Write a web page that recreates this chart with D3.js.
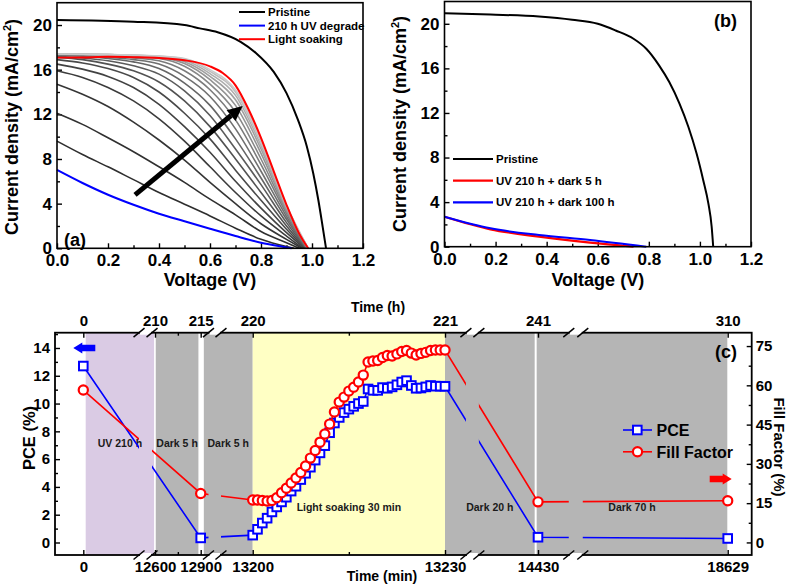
<!DOCTYPE html>
<html>
<head>
<meta charset="utf-8">
<script src="https://cdn.jsdelivr.net/npm/d3@7"></script>
<style>
  body { margin: 0; background: #fff; }
  svg { display: block; }
  text { font-family: "Liberation Sans", Arial, sans-serif; font-weight: bold; }
</style>
</head>
<body>
<svg id="fig" width="787" height="586"></svg>
<script>
// ---------- panel (a): J-V curves during light soaking ----------
const soakV = [0, 0.1, 0.2, 0.3, 0.4, 0.5, 0.6, 0.7, 0.8, 0.9];
// intermediate scans, darkest (just after UV) to lightest
const soakJ = [
  [9.6, 8.4, 7.3, 6.15, 5.0, 3.95, 2.9, 1.8, 0.8, 0.15],
  [12.1, 11.1, 9.9, 8.65, 7.3, 5.9, 4.4, 3.0, 1.5, 0.5],
  [14.7, 13.8, 12.7, 11.3, 9.7, 7.9, 5.9, 4.0, 2.2, 0.8],
  [15.9, 15.3, 14.4, 13.2, 11.6, 9.6, 7.3, 5.0, 2.9, 1.1],
  [16.5, 16.05, 15.4, 14.4, 12.9, 10.9, 8.6, 6.0, 3.6, 1.4],
  [16.9, 16.6, 16.1, 15.3, 14.0, 12.1, 9.8, 7.0, 4.3, 1.7],
  [17.1, 16.9, 16.5, 15.9, 14.9, 13.2, 10.9, 8.0, 5.0, 2.0],
  [17.2, 17.05, 16.8, 16.35, 15.6, 14.1, 11.9, 8.9, 5.7, 2.3],
  [17.3, 17.2, 17.0, 16.7, 16.1, 14.8, 12.8, 9.8, 6.3, 2.6],
  [17.3, 17.25, 17.1, 16.9, 16.5, 15.4, 13.6, 10.7, 6.9, 2.85],
  [17.35, 17.3, 17.2, 17.05, 16.8, 15.9, 14.2, 11.5, 7.5, 3.1],
  [17.4, 17.35, 17.3, 17.15, 17.0, 16.3, 14.7, 12.2, 8.0, 3.3],
  [17.4, 17.35, 17.3, 17.2, 17.1, 16.55, 15.1, 12.8, 8.5, 3.45],
  [17.4, 17.38, 17.35, 17.25, 17.15, 16.7, 15.4, 13.3, 8.9, 3.6],
  [17.4, 17.38, 17.35, 17.28, 17.2, 16.85, 15.65, 13.7, 9.2, 3.7],
  [17.4, 17.38, 17.35, 17.3, 17.2, 16.95, 15.85, 14.0, 9.5, 3.8],
  [17.4, 17.38, 17.35, 17.3, 17.22, 17.0, 16.0, 14.2, 9.7, 3.85]
];
const soakVoc = [0.93, 0.95, 0.96, 0.965, 0.97, 0.972, 0.975, 0.977, 0.978, 0.98, 0.981, 0.982, 0.983, 0.984, 0.984, 0.985, 0.985];

const pristineAV = [0, 0.3, 0.5, 0.56, 0.63, 0.72, 0.78, 0.85, 0.9, 0.945, 0.98, 1.005, 1.025, 1.042, 1.055];
const pristineAJ = [20.46, 20.3, 20.0, 19.7, 19.35, 18.5, 17.5, 15.8, 13.9, 11.5, 9.1, 6.7, 4.3, 1.9, 0];
const degradeV = [0, 0.1, 0.2, 0.3, 0.4, 0.5, 0.6, 0.7, 0.8, 0.9, 0.92];
const degradeJ = [7.02, 5.85, 4.8, 3.9, 3.1, 2.42, 1.75, 1.1, 0.5, 0.08, 0];
const soakedV = [0, 0.1, 0.2, 0.3, 0.4, 0.5, 0.6, 0.65, 0.7, 0.75, 0.8, 0.85, 0.9, 0.95, 0.985];
const soakedJ = [17.08, 17.1, 17.15, 17.12, 17.05, 16.85, 16.3, 15.7, 14.6, 12.5, 9.9, 6.9, 3.9, 1.3, 0];

// ---------- panel (b) ----------
const pristineBV = [0, 0.18, 0.37, 0.5, 0.6, 0.67, 0.74, 0.79, 0.84, 0.88, 0.92, 0.955, 0.987, 1.013, 1.033, 1.046, 1.052];
const pristineBJ = [20.95, 20.83, 20.65, 20.36, 20.0, 19.4, 18.66, 17.76, 16.27, 14.77, 12.84, 10.74, 8.36, 5.97, 3.89, 1.79, 0];
const dark5V = [0, 0.18, 0.37, 0.57, 0.74];
const dark5J = [2.69, 1.56, 0.9, 0.36, 0];
const dark100V = [0, 0.18, 0.37, 0.57, 0.79];
const dark100J = [2.69, 1.65, 1.05, 0.6, 0];

// ---------- panel (c): PCE and FF vs time ----------
const tickMin = [0, 12600, 12900, 13200, 13230, 14430, 18629];
const tickHour = [0, 210, 215, 220, 221, 241, 310];
const timeMin = [0, 12900,
  13200, 13200.75, 13201.5, 13202.25, 13203, 13203.75, 13204.5, 13205.25, 13206, 13206.75,
  13207.5, 13208.25, 13209, 13209.75, 13210.5, 13211.25, 13212, 13212.75, 13213.5, 13214.25,
  13215, 13215.75, 13216.5, 13217.25, 13218, 13218.75, 13219.5, 13220.25, 13221, 13221.75,
  13222.5, 13223.25, 13224, 13224.75, 13225.5, 13226.25, 13227, 13227.75, 13228.5, 13229.25,
  13230, 14430, 18629];
const pce = [12.7, 0.33,
  0.53, 0.95, 1.4, 1.75, 2.2, 2.56, 2.92, 3.26, 3.7, 4.05,
  4.53, 4.98, 5.42, 5.93, 6.45, 6.97, 7.9, 8.6, 9.0, 9.35,
  9.6, 9.8, 10.0, 10.15, 11.05, 10.95, 10.95, 11.15, 11.1, 11.2,
  11.35, 11.55, 11.65, 11.3, 11.1, 11.12, 11.2, 11.3, 11.25, 11.25,
  11.24, 0.38, 0.29];
const fillFactor = [58.2, 18.7,
  16.2, 16.2, 16.0, 15.8, 16.0, 17.1, 19.0, 20.7, 22.7, 24.6,
  26.7, 29.2, 32.2, 35.1, 38.3, 41.4, 45.2, 49.8, 53.6, 55.5,
  57.8, 59.3, 61.3, 63.9, 68.9, 69.3, 69.5, 70.6, 71.4, 71.2,
  72.0, 72.9, 73.3, 72.3, 71.6, 72.2, 72.6, 73.3, 73.5, 73.5,
  73.5, 15.5, 15.9];
const bandStart = [420, 12605, 12918, 13200, 13230, 14413];
const bandEnd = [12440, 12885, 13200, 13230, 14387, 18620];
const bandKind = ['uv', 'dark', 'dark', 'light', 'dark', 'dark'];
const bandLabel = ['UV 210 h', 'Dark 5 h', 'Dark 5 h', 'Light soaking 30 min', 'Dark 20 h', 'Dark 70 h'];
const bandLabelAt = [6.9, 6.9, 6.9, 2.25, 2.25, 2.25];
const breakStart = [9790, 12945, 13500, 15111];
const breakEnd = [12075, 13017, 13667, 15421];

const svg = d3.select('#fig');
const FONT = '"Liberation Sans", Arial, sans-serif';
const bandFill = { uv: '#dacbe4', dark: '#b5b5b5', light: '#ffffc4' };

const styleAxis = (g, size) => {
  g.select('.domain').remove();
  g.attr('font-family', FONT).attr('font-size', size).attr('font-weight', 'bold');
  g.selectAll('.tick line').attr('stroke-width', 1.4);
};

const pts = (vs, js) => vs.map((v, i) => [v, js[i]]);

function jvPanel(x, y) {
  const [x0, x1] = x.range(), [y0, y1] = y.range();
  const g = svg.append('g');
  g.append('g').attr('transform', `translate(0,${y0})`)
    .call(d3.axisBottom(x).tickValues([0, 0.2, 0.4, 0.6, 0.8, 1.0, 1.2]).tickFormat(d3.format('.1f')).tickSize(-5).tickPadding(6))
    .call(g => styleAxis(g, 17));
  g.append('g').attr('transform', `translate(0,${y0})`)
    .call(d3.axisBottom(x).tickValues([0.1, 0.3, 0.5, 0.7, 0.9, 1.1]).tickFormat('').tickSize(-3))
    .call(g => styleAxis(g, 17));
  g.append('g').attr('transform', `translate(${x0},0)`)
    .call(d3.axisLeft(y).tickValues([0, 4, 8, 12, 16, 20]).tickSize(-5).tickPadding(5))
    .call(g => styleAxis(g, 17));
  g.append('g').attr('transform', `translate(${x0},0)`)
    .call(d3.axisLeft(y).tickValues([2, 6, 10, 14, 18]).tickFormat('').tickSize(-3))
    .call(g => styleAxis(g, 17));
  return g;
}

const curve = (x, y) => d3.line().x(d => x(d[0])).y(d => y(d[1])).curve(d3.curveMonotoneX);

// ===== panel (a) =====
const xa = d3.scaleLinear().domain([0, 1.2]).range([57, 363]);
const ya = d3.scaleLinear().domain([0, 22]).range([248.3, 2.7]);
const ga = jvPanel(xa, ya);
const lineA = curve(xa, ya);
const greyOf = i => d3.interpolateRgb('#2e2e2e', '#cacaca')(Math.pow(i / (soakJ.length - 1), 1.5));

soakJ.forEach((js, i) => {
  ga.append('path')
    .attr('d', lineA(pts(soakV, js).filter(d => d[0] < soakVoc[i]).concat([[soakVoc[i], 0]])))
    .attr('fill', 'none').attr('stroke', greyOf(i)).attr('stroke-width', 1.6);
});
ga.append('path').attr('d', lineA(pts(degradeV, degradeJ))).attr('fill', 'none').attr('stroke', '#0000ff').attr('stroke-width', 2);
ga.append('path').attr('d', lineA(pts(soakedV, soakedJ))).attr('fill', 'none').attr('stroke', '#ff0000').attr('stroke-width', 2);
ga.append('path').attr('d', lineA(pts(pristineAV, pristineAJ))).attr('fill', 'none').attr('stroke', '#000').attr('stroke-width', 2);

// trend arrow
{
  const tail = [xa(0.306), ya(4.78)], tip = [xa(0.728), ya(12.75)];
  const ang = Math.atan2(tip[1] - tail[1], tip[0] - tail[0]);
  const hl = 15, hw = 7;
  const base = [tip[0] - hl * Math.cos(ang), tip[1] - hl * Math.sin(ang)];
  ga.append('line').attr('x1', tail[0]).attr('y1', tail[1]).attr('x2', base[0]).attr('y2', base[1])
    .attr('stroke', '#000').attr('stroke-width', 5);
  ga.append('path')
    .attr('d', `M${tip}L${base[0] - hw * Math.sin(ang)},${base[1] + hw * Math.cos(ang)}L${base[0] + hw * Math.sin(ang)},${base[1] - hw * Math.cos(ang)}Z`)
    .attr('fill', '#000');
}

ga.append('rect').attr('x', 57).attr('y', 2.7).attr('width', 306).attr('height', 245.6)
  .attr('fill', 'none').attr('stroke', '#000').attr('stroke-width', 1.6);

const legA = [['Pristine', '#000'], ['210 h UV degrade', '#0000ff'], ['Light soaking', '#ff0000']];
legA.forEach(([t, c], i) => {
  const yy = 12 + i * 13.6;
  ga.append('line').attr('x1', 239).attr('x2', 265).attr('y1', yy).attr('y2', yy).attr('stroke', c).attr('stroke-width', 2);
  ga.append('text').attr('x', 268).attr('y', yy + 4).attr('font-size', 11.5).text(t);
});
ga.append('text').attr('x', 64).attr('y', 246).attr('font-size', 18).text('(a)');
ga.append('text').attr('x', 210).attr('y', 286).attr('text-anchor', 'middle').attr('font-size', 18).text('Voltage (V)');

const yTitle = (g, x, y) => {
  const t = g.append('text').attr('transform', `translate(${x},${y}) rotate(-90)`).attr('text-anchor', 'middle').attr('font-size', 18);
  t.append('tspan').text('Current density (mA/cm');
  t.append('tspan').attr('font-size', 11).attr('dy', -7).text('2');
  t.append('tspan').attr('dy', 7).text(')');
};
yTitle(ga, 18, 127);

// ===== panel (b) =====
const xb = d3.scaleLinear().domain([0, 1.2]).range([444.5, 751]);
const yb = d3.scaleLinear().domain([0, 22]).range([246.7, 1.5]);
const gb = jvPanel(xb, yb);
const lineB = curve(xb, yb);
gb.append('path').attr('d', lineB(pts(dark5V, dark5J))).attr('fill', 'none').attr('stroke', '#ff0000').attr('stroke-width', 2.2);
gb.append('path').attr('d', lineB(pts(dark100V, dark100J))).attr('fill', 'none').attr('stroke', '#0000ff').attr('stroke-width', 2);
gb.append('path').attr('d', lineB(pts(pristineBV, pristineBJ))).attr('fill', 'none').attr('stroke', '#000').attr('stroke-width', 2);
gb.append('rect').attr('x', 444.5).attr('y', 1.5).attr('width', 306.5).attr('height', 245.2)
  .attr('fill', 'none').attr('stroke', '#000').attr('stroke-width', 1.6);
const legB = [['Pristine', '#000'], ['UV 210 h + dark 5 h', '#ff0000'], ['UV 210 h + dark 100 h', '#0000ff']];
legB.forEach(([t, c], i) => {
  const yy = 159 + i * 21.7;
  gb.append('line').attr('x1', 453).attr('x2', 493).attr('y1', yy).attr('y2', yy).attr('stroke', c).attr('stroke-width', 2.2);
  gb.append('text').attr('x', 496).attr('y', yy + 4).attr('font-size', 11.5).text(t);
});
gb.append('text').attr('x', 737).attr('y', 27).attr('text-anchor', 'end').attr('font-size', 18).text('(b)');
gb.append('text').attr('x', 597.8).attr('y', 286).attr('text-anchor', 'middle').attr('font-size', 18).text('Voltage (V)');
yTitle(gb, 406, 124);

// ===== panel (c) =====
const L = 55, R = 751.7, T = 332.7, B = 555;
const xc = d3.scaleLinear().domain(tickMin).range([83.3, 155, 200.7, 252.7, 445, 538, 727.7]);
const xh = d3.scaleLinear().domain(tickHour).range(xc.range());
const yp = d3.scaleLinear().domain([-0.9, 15.1]).range([B, T]);
const yf = d3.scaleLinear().domain([-4.8, 80.1]).range([B, T]);
const gc = svg.append('g');

bandStart.forEach((s, i) => {
  gc.append('rect').attr('x', xc(s)).attr('y', T).attr('width', xc(bandEnd[i]) - xc(s)).attr('height', B - T)
    .attr('fill', bandFill[bandKind[i]]);
});
bandStart.forEach((s, i) => {
  gc.append('text').attr('x', (xc(s) + xc(bandEnd[i])) / 2).attr('y', yp(bandLabelAt[i]))
    .attr('text-anchor', 'middle').attr('font-size', 10.5).attr('fill', '#1a1a1a').text(bandLabel[i]);
});

// clip that leaves gaps at the axis breaks
const clip = gc.append('clipPath').attr('id', 'brk');
const edges = [L].concat(...breakStart.map((s, i) => [xc(s), xc(breakEnd[i])]), [R]);
for (let i = 0; i < edges.length; i += 2) {
  clip.append('rect').attr('x', edges[i]).attr('y', T).attr('width', edges[i + 1] - edges[i]).attr('height', B - T);
}

const series = timeMin.map((t, i) => ({ t, pce: pce[i], ff: fillFactor[i] }));
gc.append('path').attr('clip-path', 'url(#brk)')
  .attr('d', d3.line().x(d => xc(d.t)).y(d => yp(d.pce))(series))
  .attr('fill', 'none').attr('stroke', '#0000ff').attr('stroke-width', 1.6);
gc.selectAll('rect.pce').data(series).join('rect').attr('class', 'pce')
  .attr('x', d => xc(d.t) - 4.3).attr('y', d => yp(d.pce) - 4.3).attr('width', 8.6).attr('height', 8.6)
  .attr('fill', '#fff').attr('stroke', '#0000ff').attr('stroke-width', 2);
gc.append('path').attr('clip-path', 'url(#brk)')
  .attr('d', d3.line().x(d => xc(d.t)).y(d => yf(d.ff))(series))
  .attr('fill', 'none').attr('stroke', '#ff0000').attr('stroke-width', 1.6);
gc.selectAll('circle.ff').data(series).join('circle').attr('class', 'ff')
  .attr('cx', d => xc(d.t)).attr('cy', d => yf(d.ff)).attr('r', 4.6)
  .attr('fill', '#fff').attr('stroke', '#ff0000').attr('stroke-width', 2.2);

// axes
gc.append('g').attr('transform', `translate(0,${B})`)
  .call(d3.axisBottom(xc).tickValues(tickMin).tickFormat(d3.format('d')).tickSize(-5).tickPadding(6))
  .call(g => styleAxis(g, 15));
gc.append('g').attr('transform', `translate(0,${T})`)
  .call(d3.axisTop(xh).tickValues(tickHour).tickFormat(d3.format('d')).tickSize(-5).tickPadding(7))
  .call(g => styleAxis(g, 15));
[B, T].forEach(yy => {
  gc.append('g').attr('transform', `translate(0,${yy})`)
    .call((yy === B ? d3.axisBottom(xc) : d3.axisTop(xc)).tickValues([12750, 13215]).tickFormat('').tickSize(-3))
    .call(g => styleAxis(g, 15));
});
gc.append('g').attr('transform', `translate(${L},0)`)
  .call(d3.axisLeft(yp).tickValues([0, 2, 4, 6, 8, 10, 12, 14]).tickSize(-5).tickPadding(5))
  .call(g => styleAxis(g, 15));
gc.append('g').attr('transform', `translate(${L},0)`)
  .call(d3.axisLeft(yp).tickValues([1, 3, 5, 7, 9, 11, 13, 15]).tickFormat('').tickSize(-3))
  .call(g => styleAxis(g, 15));
gc.append('g').attr('transform', `translate(${R},0)`)
  .call(d3.axisRight(yf).tickValues([0, 15, 30, 45, 60, 75]).tickSize(-5).tickPadding(4))
  .call(g => styleAxis(g, 15));
gc.append('g').attr('transform', `translate(${R},0)`)
  .call(d3.axisRight(yf).tickValues([7.5, 22.5, 37.5, 52.5, 67.5]).tickFormat('').tickSize(-3))
  .call(g => styleAxis(g, 15));

gc.append('rect').attr('x', L).attr('y', T).attr('width', R - L).attr('height', B - T)
  .attr('fill', 'none').attr('stroke', '#000').attr('stroke-width', 1.8);

// break symbols on top and bottom axes
breakStart.forEach((s, i) => {
  const a = xc(s), b = xc(breakEnd[i]);
  [T, B].forEach(yy => {
    gc.append('rect').attr('x', a + 1).attr('y', yy - 2).attr('width', b - a - 2).attr('height', 4).attr('fill', '#fff');
    [a, b].forEach(cx => {
      gc.append('line').attr('x1', cx - 5.5).attr('y1', yy + 4.5).attr('x2', cx + 5.5).attr('y2', yy - 4.5)
        .attr('stroke', '#000').attr('stroke-width', 1.5);
    });
  });
});

// direction arrows
{
  const yy = yp(14), tip = 73.3;
  gc.append('path')
    .attr('d', `M${tip},${yy}L${tip + 9},${yy - 5.5}L${tip + 9},${yy - 3.3}L${tip + 22},${yy - 3.3}L${tip + 22},${yy + 3.3}L${tip + 9},${yy + 3.3}L${tip + 9},${yy + 5.5}Z`)
    .attr('fill', '#0000ff');
  const yr = yf(24.2), tr = 731.7;
  gc.append('path')
    .attr('d', `M${tr},${yr}L${tr - 9},${yr - 5.5}L${tr - 9},${yr - 3.3}L${tr - 22},${yr - 3.3}L${tr - 22},${yr + 3.3}L${tr - 9},${yr + 3.3}L${tr - 9},${yr + 5.5}Z`)
    .attr('fill', '#ff0000');
}

// legend
[['PCE', '#0000ff', 'sq'], ['Fill Factor', '#ff0000', 'ci']].forEach(([t, c, m], i) => {
  const yy = 430 + i * 21.8;
  gc.append('line').attr('x1', 623).attr('x2', 652).attr('y1', yy).attr('y2', yy).attr('stroke', c).attr('stroke-width', 1.6);
  if (m === 'sq') {
    gc.append('rect').attr('x', 633).attr('y', yy - 4.3).attr('width', 8.6).attr('height', 8.6)
      .attr('fill', '#fff').attr('stroke', c).attr('stroke-width', 2);
  } else {
    gc.append('circle').attr('cx', 637.5).attr('cy', yy).attr('r', 4.6).attr('fill', '#fff').attr('stroke', c).attr('stroke-width', 2.2);
  }
  gc.append('text').attr('x', 656.5).attr('y', yy + 5.7).attr('font-size', 16).text(t);
});

gc.append('text').attr('x', 737).attr('y', 358).attr('text-anchor', 'end').attr('font-size', 18).text('(c)');
gc.append('text').attr('x', 378).attr('y', 312).attr('text-anchor', 'middle').attr('font-size', 14).text('Time (h)');
gc.append('text').attr('x', 382).attr('y', 581).attr('text-anchor', 'middle').attr('font-size', 14).text('Time (min)');
gc.append('text').attr('transform', `translate(35,438) rotate(-90)`).attr('text-anchor', 'middle').attr('font-size', 16.5).text('PCE (%)');
gc.append('text').attr('transform', `translate(774,447) rotate(90)`).attr('text-anchor', 'middle').attr('font-size', 15).text('Fill Factor (%)');
</script>
</body>
</html>
